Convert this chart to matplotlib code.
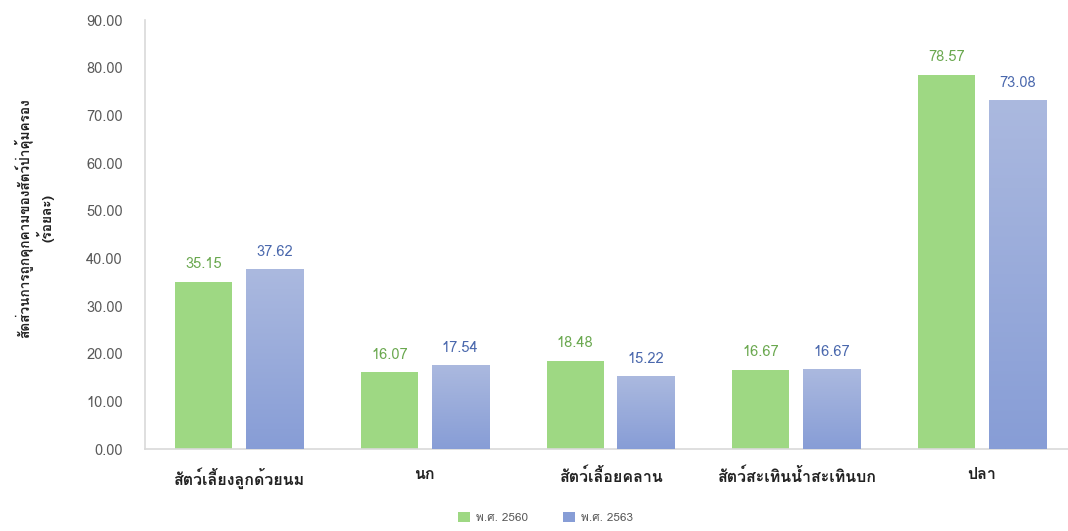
import numpy as np
import matplotlib
matplotlib.use("Agg")
import matplotlib.pyplot as plt
from matplotlib import font_manager
from matplotlib.ft2font import FT2Font

categories = ["สัตว์เลี้ยงลูกด้วยนม", "นก", "สัตว์เลื้อยคลาน", "สัตว์สะเทินน้ำสะเทินบก", "ปลา"]
values_2560 = [35.15, 16.07, 18.48, 16.67, 78.57]
values_2563 = [37.62, 17.54, 15.22, 16.67, 73.08]
series_names = ["พ.ศ. 2560", "พ.ศ. 2563"]
yticks = [0, 10, 20, 30, 40, 50, 60, 70, 80, 90]


def find_thai_font():
    # pick the first installed font that has Thai glyphs
    for f in font_manager.fontManager.ttflist:
        try:
            cmap = FT2Font(f.fname).get_charmap()
        except Exception:
            continue
        if 0x0E2A in cmap and 0x0E31 in cmap:
            return f.name
    return None


thai = find_thai_font()
fams = [thai, "DejaVu Sans"] if thai else ["DejaVu Sans"]
plt.rcParams["font.family"] = fams

green = "#9ed883"
blue_top = np.array([0xab, 0xb9, 0xdf]) / 255
blue_bot = np.array([0x87, 0x9d, 0xd6]) / 255
tick_col = "#595959"

fig = plt.figure(figsize=(10.68, 5.31), dpi=100)
ax = fig.add_axes([0.1358, 0.1544, 0.8642, 0.8076])

x = np.arange(len(categories))
w = 0.307
off = 0.191

ax.bar(x - off, values_2560, w, color=green, label=series_names[0], zorder=2)
blue_bars = ax.bar(x + off, values_2563, w, color=blue_bot, label=series_names[1], zorder=2)

# vertical gradient on the blue bars
grad = np.linspace(0, 1, 256)[:, None]
img = blue_top[None, None, :] * (1 - grad[..., None]) + blue_bot[None, None, :] * grad[..., None]
for b in blue_bars:
    x0, y0 = b.get_x(), b.get_y()
    bw, bh = b.get_width(), b.get_height()
    ax.imshow(img, extent=[x0, x0 + bw, y0, y0 + bh], aspect="auto", zorder=3,
              interpolation="bilinear")

for i in range(len(categories)):
    ax.text(x[i] - off, values_2560[i] + 2.2, f"{values_2560[i]:.2f}", ha="center",
            va="bottom", fontsize=10.5, color="#6aa84f")
    ax.text(x[i] + off, values_2563[i] + 2.2, f"{values_2563[i]:.2f}", ha="center",
            va="bottom", fontsize=10.5, color="#4a68ad")

ax.set_xlim(-0.506, 4.463)
ax.set_ylim(0, 90)
ax.set_yticks(yticks)
ax.set_yticklabels([f"{v:.2f}" for v in yticks], color=tick_col, fontsize=10.5)
ax.set_xticks(x)
ax.set_xticklabels(categories, fontsize=11.5, color="#222222", fontweight="bold")
ax.tick_params(axis="both", length=0)
ax.tick_params(axis="x", pad=13)
ax.tick_params(axis="y", pad=16)

for s in ["top", "right"]:
    ax.spines[s].set_visible(False)
for s in ["left", "bottom"]:
    ax.spines[s].set_color("#d9d9d9")
    ax.spines[s].set_linewidth(1.2)

ax.set_ylabel("สัดส่วนการถูกคุกคามของสัตว์ป่าคุ้มครอง\n(ร้อยละ)", fontsize=9.8,
              color="#222222", fontweight="bold")
ax.yaxis.set_label_coords(-0.0985, 0.538)

fig.legend(loc="lower center", ncol=2, frameon=False, fontsize=8.5,
           bbox_to_anchor=(0.511, -0.005), handlelength=1.0, handleheight=1.0,
           handletextpad=0.5, labelcolor=tick_col, columnspacing=3.0)

fig.savefig("out.png", dpi=100)
